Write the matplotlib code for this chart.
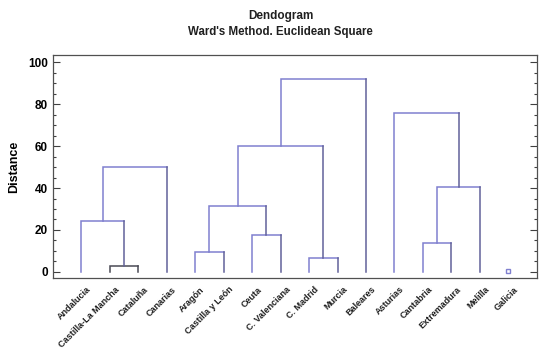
import matplotlib.pyplot as plt
import matplotlib.transforms as mtransforms
import numpy as np

plt.rcParams['font.family'] = ['Liberation Sans', 'DejaVu Sans']

labels = ["Andalucia", "Castilla-La Mancha", "Cataluña", "Canarias",
          "Aragón", "Castilla y León", "Ceuta", "C. Valenciana",
          "C. Madrid", "Murcia", "Baleares", "Asturias",
          "Cantabria", "Extremadura", "Melilla", "Galicia"]

# merges like a scipy linkage: leaves are 0..15, new clusters get 16, 17, ...
merge_left = [1, 0, 17, 4, 6, 19, 8, 21, 23, 12, 25, 11]
merge_right = [2, 16, 3, 5, 7, 20, 9, 22, 10, 13, 14, 26]
merge_height = [3.0, 24.1, 50.1, 9.7, 17.8, 31.6, 6.7, 60.1, 91.8, 13.6, 40.5, 75.9]

single_leaf = ["Galicia"]

light = '#8080cf'
dark = '#62629a'

fig = plt.figure(figsize=(5.5, 3.56), dpi=100)
ax = fig.add_axes([0.096, 0.219, 0.880, 0.626])

n = len(labels)
xpos = {i: i + 1 for i in range(n)}
ypos = {i: 0.0 for i in range(n)}

for k, (a, b, h) in enumerate(zip(merge_left, merge_right, merge_height)):
    cid = n + k
    xa, xb = xpos[a], xpos[b]
    ya, yb = ypos[a], ypos[b]
    if h < 5:
        c_left = c_right = '#4a4a55'
    else:
        c_left, c_right = light, dark
    ax.plot([xa, xa, xb], [ya, h, h], color=c_left, lw=1.1, solid_joinstyle='miter')
    ax.plot([xb, xb], [h, yb], color=c_right, lw=1.1)
    xpos[cid] = (xa + xb) / 2
    ypos[cid] = h

for name in single_leaf:
    i = labels.index(name)
    ax.plot(xpos[i], 0.5, marker='s', ms=3, mfc='white', mec=light, mew=1)

ax.set_xlim(0, 17)
ax.set_ylim(-2.9, 103.3)
ax.set_xticks(range(1, n + 1))
ax.set_xticklabels(labels, rotation=45, ha='right', rotation_mode='anchor',
                   fontsize=6.5, fontweight='bold', color='#202020')
ax.tick_params(axis='x', length=0, pad=5)
shift = mtransforms.ScaledTranslation(5 / 100, 0, fig.dpi_scale_trans)
for t in ax.get_xticklabels():
    t.set_transform(t.get_transform() + shift)

ax.set_yticks(range(0, 101, 20))
ax.set_yticks(range(0, 101, 5), minor=True)
ax.tick_params(axis='y', which='both', direction='in', right=True,
               labelsize=8.5, width=0.8, color='#404040')
ax.tick_params(axis='y', which='major', length=5)
ax.tick_params(axis='y', which='minor', length=2.5)
for t in ax.get_yticklabels():
    t.set_fontweight('bold')

for s in ax.spines.values():
    s.set_color('#505050')
    s.set_linewidth(0.9)

ax.set_ylabel("Distance", fontsize=9, fontweight='bold', labelpad=6)

fig.text(0.51, 0.955, "Dendogram", ha='center', va='center',
         fontsize=8.5, fontweight='bold', color='#202020')
fig.text(0.51, 0.91, "Ward's Method. Euclidean Square", ha='center', va='center',
         fontsize=8.3, fontweight='bold', color='#202020')

fig.savefig('out.png', dpi=100)
